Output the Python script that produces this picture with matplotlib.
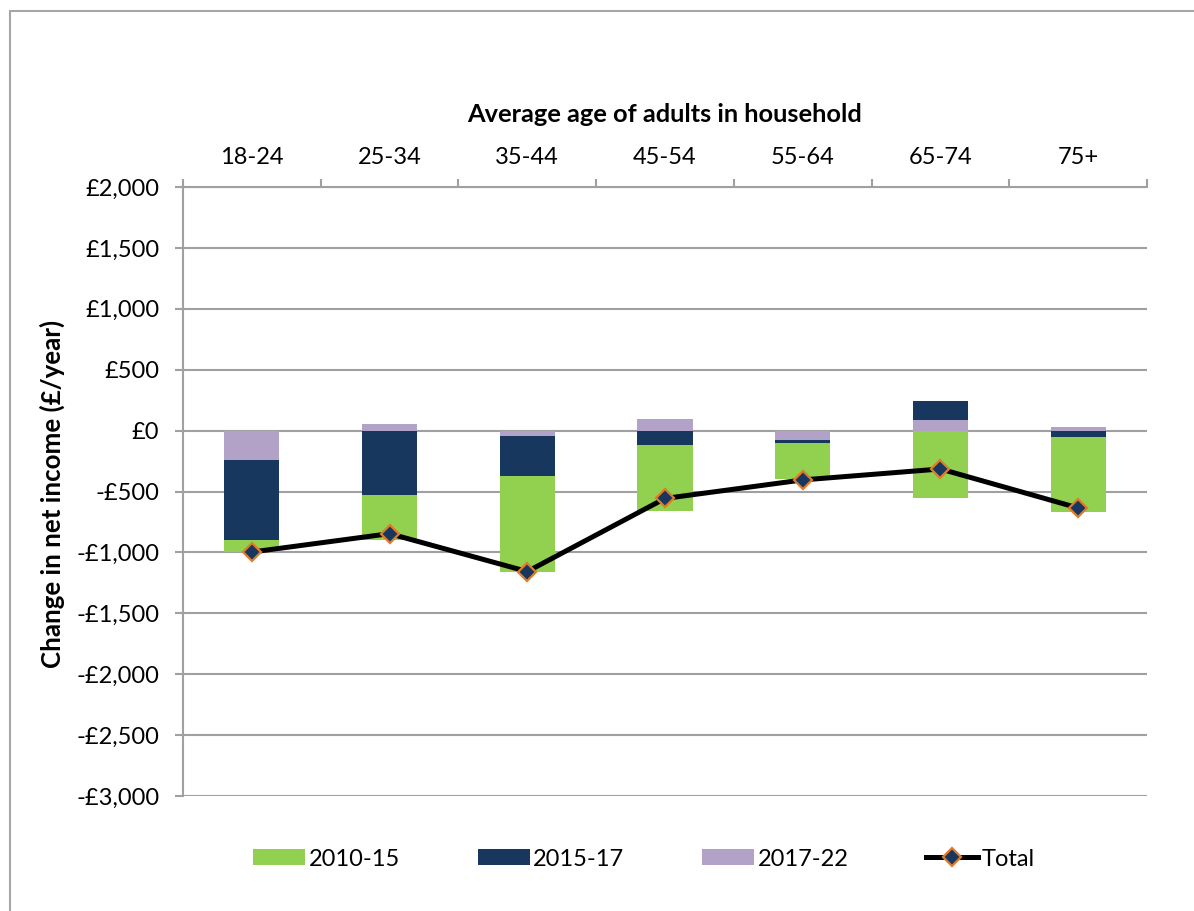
import numpy as np
import matplotlib
matplotlib.use("Agg")
import matplotlib.pyplot as plt
from matplotlib.patches import Patch, Rectangle
from matplotlib.lines import Line2D

categories = ["18-24", "25-34", "35-44", "45-54", "55-64", "65-74", "75+"]
s2010_15 = [-105, -370, -790, -538, -300, -557, -616]
s2015_17 = [-655, -530, -330, -118, -25, 160, -52]
s2017_22 = [-240, 55, -45, 96, -75, 85, 33]
total = [-997, -846, -1157, -557, -405, -315, -635]
series_names = ["2010-15", "2015-17", "2017-22"]
yticks = [2000, 1500, 1000, 500, 0, -500, -1000, -1500, -2000, -2500, -3000]

colors = {"2010-15": "#92D050", "2015-17": "#17375E", "2017-22": "#B3A2C7"}

plt.rcParams['font.family'] = ['Lato', 'DejaVu Sans']

W, H = 1194, 911
fig = plt.figure(figsize=(W / 100, H / 100), dpi=100)
ax = fig.add_axes([183 / W, 1 - 796 / H, (1147 - 183) / W, (796 - 187) / H])

x = np.arange(len(categories))
data = {"2010-15": np.array(s2010_15, float),
        "2015-17": np.array(s2015_17, float),
        "2017-22": np.array(s2017_22, float)}
# stack from axis outward: 2017-22, 2015-17, 2010-15
pos_base = np.zeros(len(x))
neg_base = np.zeros(len(x))
for name in ["2017-22", "2015-17", "2010-15"]:
    v = data[name]
    base = np.where(v >= 0, pos_base, neg_base)
    ax.bar(x, v, bottom=base, width=0.4, color=colors[name], zorder=3, linewidth=0)
    pos_base = pos_base + np.where(v >= 0, v, 0)
    neg_base = neg_base + np.where(v < 0, v, 0)

ax.plot(x, total, color="black", lw=3.6, marker="D", ms=9.5,
        markerfacecolor="#17375E", markeredgecolor="#E07B2A", markeredgewidth=1.6,
        zorder=4)

ax.set_xlim(-0.5, len(categories) - 0.5)
ax.set_ylim(-3000, 2000)
ax.set_yticks(yticks)
ax.set_yticklabels([("-£{:,}".format(-v) if v < 0 else "£{:,}".format(v)) for v in yticks],
                   fontsize=17)
ax.yaxis.grid(True, color="#A0A0A0", lw=1.5, zorder=0)
ax.set_axisbelow(True)

ax.xaxis.tick_top()
ax.set_xticks(x)
ax.set_xticklabels(categories, fontsize=17)
ax.set_xticks(np.arange(-0.5, len(categories)), minor=True)
ax.tick_params(axis="x", which="major", length=0, pad=14)
ax.tick_params(axis="x", which="minor", length=6, width=1.5, color="#A0A0A0", direction="out", top=True, bottom=False)
ax.tick_params(axis="y", which="major", length=6, width=1.5, color="#A0A0A0", direction="out", pad=11)

for s in ["right", "bottom"]:
    ax.spines[s].set_visible(False)
for s in ["left", "top"]:
    ax.spines[s].set_color("#A0A0A0")
    ax.spines[s].set_linewidth(1.5)

fig.text(665 / W, 1 - 115 / H, "Average age of adults in household", ha="center", va="center",
         fontsize=18.3, fontweight="bold")
fig.text(52 / W, 1 - 494 / H, "Change in net income (£/year)", ha="center", va="center",
         rotation=90, fontsize=18.6, fontweight="bold")

handles = [Patch(facecolor=colors[n], edgecolor="none") for n in series_names]
handles.append(Line2D([0], [0], color="black", lw=3.6, marker="D", ms=9.5,
                      markerfacecolor="#17375E", markeredgecolor="#E07B2A", markeredgewidth=1.6))
fig.legend(handles, series_names + ["Total"], loc="center", bbox_to_anchor=(644 / W, 1 - 859 / H),
           ncol=4, frameon=False, fontsize=17, handlelength=2.2, handleheight=0.64,
           handletextpad=0.15, columnspacing=3.3)

fig.add_artist(Rectangle((9.5 / W, -0.2), 2.0, 1.2 - 10.5 / H, transform=fig.transFigure,
                         fill=False, edgecolor="#A6A6A6", lw=1.5))

fig.savefig("out.png", dpi=100)
